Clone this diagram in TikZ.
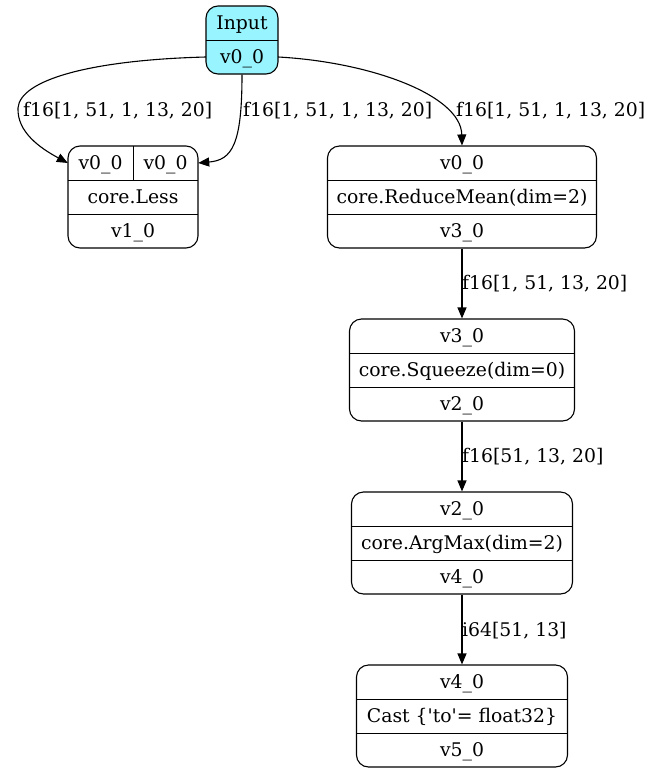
\documentclass[tikz,border=0pt]{standalone}
\usepackage{xcolor}
\usepackage{fontspec}
\setmainfont{DejaVu Serif}
\usetikzlibrary{arrows.meta,positioning,calc}
\definecolor{incyan}{HTML}{98F5FF}

\begin{document}
\begin{tikzpicture}[x=1pt, y=-1pt,
  font=\fontsize{18.8}{22}\selectfont,
  rec/.style={draw, line width=1.1pt, rounded corners=12pt, inner sep=0pt, minimum height=102},
  cell/.style={inner sep=0pt, text height=15pt, text depth=3pt, minimum height=34},
  sep/.style={line width=1.1pt},
  arr/.style={-{Triangle[length=11pt, width=9pt]}, line width=1.1pt},
  lbl/.style={anchor=west, inner sep=0pt, text height=15pt, text depth=3pt},
]
\useasboundingbox (0,0) rectangle (652,774);
% input record
\node[rec, fill=incyan, minimum width=72, minimum height=68] (in) at (242,40) {};
\node[cell, minimum width=72] (in-a) at (242,23) {Input};
\node[cell, minimum width=72] (in-b) at (242,57) {v0\_0};
\draw[sep] (in-a.south west) -- (in-a.south east);
% core.Less with two inputs
\node[rec, minimum width=130] (less) at (133,197) {};
\node[cell, minimum width=65] (less-a) at (100.5,163) {v0\_0};
\node[cell, minimum width=65] (less-b) at (165.5,163) {v0\_0};
\node[cell, minimum width=130] (less-c) at (133,197) {core.Less};
\node[cell, minimum width=130] (less-d) at (133,231) {v1\_0};
\draw[sep] (less-a.north east) -- (less-a.south east);
\draw[sep] (less-a.south west) -- (less-b.south east);
\draw[sep] (less-c.south west) -- (less-c.south east);
% chain of ops
\foreach \n/\y/\w/\a/\b/\c in {
    rmean/146/269/v0\_0/core.ReduceMean(dim=2)/v3\_0,
    sqz/319/225/v3\_0/core.Squeeze(dim=0)/v2\_0,
    amax/492/221/v2\_0/core.ArgMax(dim=2)/v4\_0,
    cast/665/211/v4\_0/Cast \{\textquotesingle to\textquotesingle= float32\}/v5\_0} {
  \node[rec, minimum width=\w] (\n) at (462,\y+51) {};
  \node[cell, minimum width=\w] (\n-a) at (462,\y+17) {\a};
  \node[cell, minimum width=\w] (\n-b) at (462,\y+51) {\b};
  \node[cell, minimum width=\w] (\n-c) at (462,\y+85) {\c};
  \draw[sep] (\n-a.south west) -- (\n-a.south east);
  \draw[sep] (\n-b.south west) -- (\n-b.south east);
}
% edges
\draw[arr] (in-b.west) .. controls (90,60) and (20,80) .. (18,108)
  .. controls (17,132) and (40,148) .. (less-a.west);
\draw[arr] (in.south) .. controls (242,145) and (232,160) .. (less-b.east);
\draw[arr] (in-b.east) .. controls (370,62) and (461,95) .. (rmean.north);
\draw[arr] (rmean.south) -- (sqz.north);
\draw[arr] (sqz.south) -- (amax.north);
\draw[arr] (amax.south) -- (cast.north);
% edge labels
\node[lbl] (l-less1) at (23,110) {f16[1, 51, 1, 13, 20]};
\node[lbl] (l-less2) at (243,110) {f16[1, 51, 1, 13, 20]};
\node[lbl] (l-rmean) at (456,110) {f16[1, 51, 1, 13, 20]};
\node[lbl] (l-sqz) at (462,283) {f16[1, 51, 13, 20]};
\node[lbl] (l-amax) at (462,456) {f16[51, 13, 20]};
\node[lbl] (l-cast) at (462,630) {i64[51, 13]};
\end{tikzpicture}
\end{document}
